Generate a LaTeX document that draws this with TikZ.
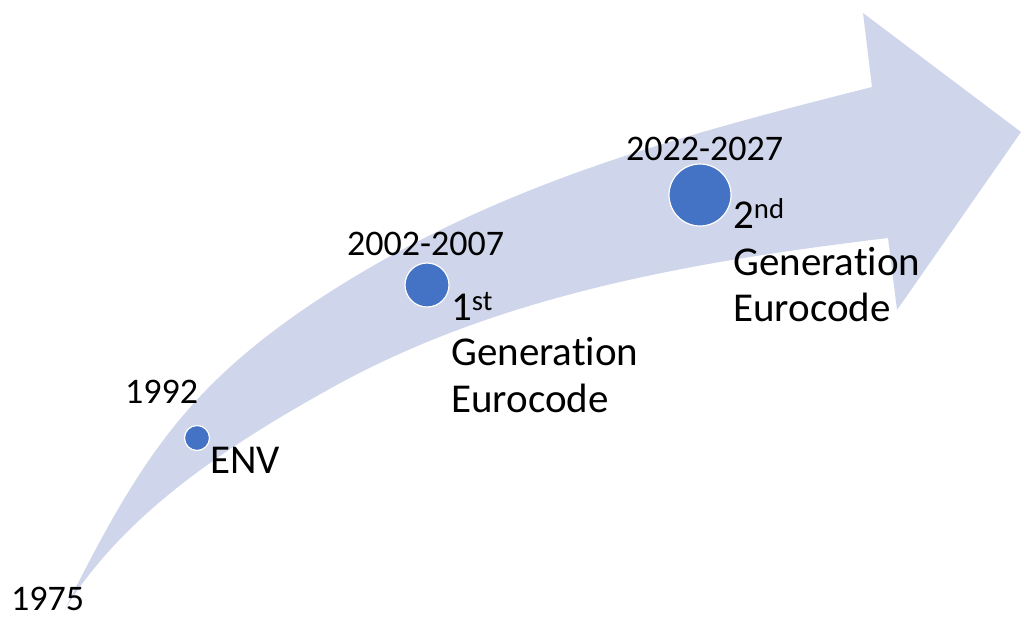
\documentclass[tikz,border=0pt]{standalone}
\usepackage{fontspec}
\setmainfont[Ligatures={NoCommon}]{Carlito}
\definecolor{arrowfill}{HTML}{CFD5EA}
\definecolor{dotblue}{HTML}{4472C4}
\begin{document}
\begin{tikzpicture}[x=1pt,y=-1pt,
  yeartext/.style={anchor=base west,inner sep=0pt,font=\fontsize{36}{44}\selectfont},
  labeltext/.style={anchor=base west,inner sep=0pt,font=\fontsize{41}{46}\selectfont},
  dot/.style={circle,fill=dotblue,draw=white,line width=1.2pt,inner sep=0pt}]
\useasboundingbox (0,0) rectangle (1024,638);
% curved arrow
\fill[arrowfill] (65,609) .. controls (141,457) and (190,381) .. (333,290)
  .. controls (502,183) and (678,136) .. (872,87)
  -- (863,13) -- (1021,132) -- (897,310) -- (888,238)
  .. controls (697,261) and (501,294) .. (333,387)
  .. controls (232,443) and (126,511) .. (65,609)
  -- cycle;
% dots
\node[dot,minimum size=25pt] (d1) at (197,438) {};
\node[dot,minimum size=44pt] (d2) at (427,285) {};
\node[dot,minimum size=62pt] (d3) at (700,195) {};
% years
\node[yeartext] (y1975) at (11,610) {1975};
\node[yeartext] (y1992) at (125,403) {1992};
\node[yeartext] (y2002) at (347,255) {2002-2007};
\node[yeartext] (y2022) at (626,160) {2022-2027};
% labels
\node[labeltext] (env) at (210,473) {ENV};
\node[labeltext] (g1a) at (451,320) {1\textsuperscript{st}};
\node[labeltext] (g1b) at (451,365) {Generation};
\node[labeltext] (g1c) at (451,412) {Eurocode};
\node[labeltext] (g2a) at (733,228) {2\textsuperscript{nd}};
\node[labeltext] (g2b) at (733,275) {Generation};
\node[labeltext] (g2c) at (733,321) {Eurocode};
\end{tikzpicture}
\end{document}
